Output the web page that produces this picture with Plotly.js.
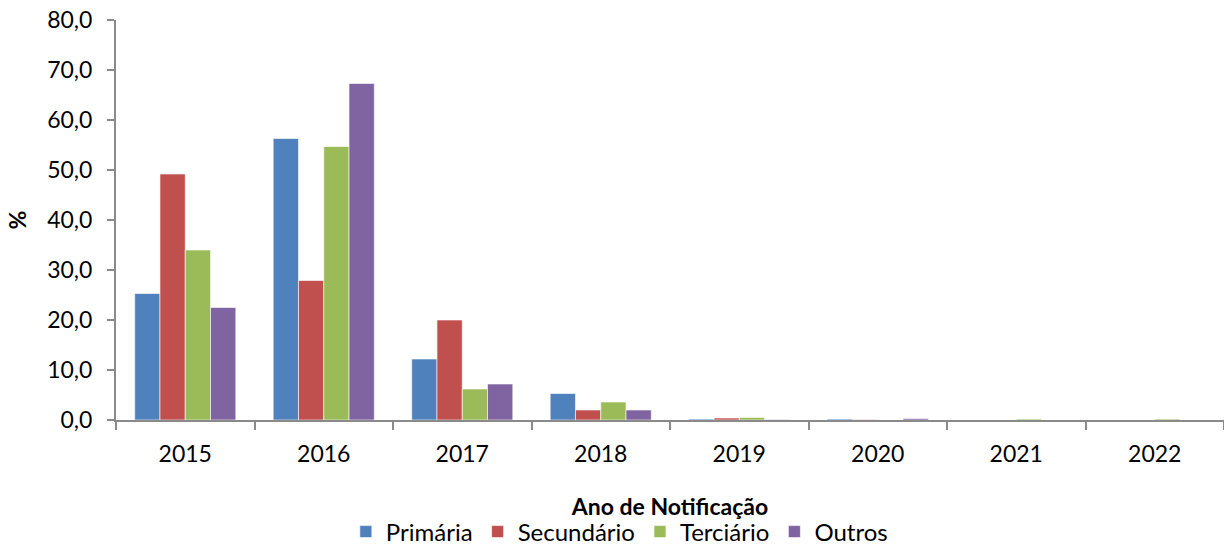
<!DOCTYPE html>
<html>
<head>
<meta charset="utf-8">
<script src="https://cdn.plot.ly/plotly-3.0.1.min.js"></script>
<style>html,body{margin:0;padding:0;background:#fff;}#chart{width:1224px;height:546px;}</style>
</head>
<body>
<div id="chart"></div>
<script>
const anos = ['2015','2016','2017','2018','2019','2020','2021','2022'];
const primaria    = [25.3, 56.3, 12.2, 5.3, 0.2, 0.2, 0.0, 0.0];
const secundario  = [49.2, 27.9, 20.0, 2.0, 0.4, 0.1, 0.0, 0.0];
const terciario   = [34.0, 54.7, 6.2, 3.6, 0.5, 0.0, 0.2, 0.2];
const outros      = [22.5, 67.3, 7.2, 2.0, 0.1, 0.3, 0.0, 0.0];
const nomes = ['Primária','Secundário','Terciário','Outros'];
const cores = ['#4F81BD','#C0504D','#9BBB59','#8064A2'];
const series = [primaria, secundario, terciario, outros];

const FONT = 'Lato, "Open Sans", sans-serif';
const traces = series.map((s,i)=>({
  type:'bar', x:anos, y:s, name:nomes[i],
  marker:{color:cores[i], line:{color:'rgba(255,255,255,0.6)', width:1}},
  hoverinfo:'none'
}));

const layout = {
  width:1224, height:546,
  margin:{l:116, r:0, t:20, b:126, autoexpand:false},
  paper_bgcolor:'#fff', plot_bgcolor:'#fff',
  font:{family:FONT, size:23, color:'#000'},
  barmode:'group', bargap:0.27, bargroupgap:0,
  separators:',.',
  showlegend:true,
  legend:{orientation:'h', xref:'container', yref:'paper', x:0.506, xanchor:'center', y:-0.28, yanchor:'middle',
    font:{family:FONT, size:24, color:'#000'}, itemwidth:30, traceorder:'normal', tracegroupgap:0},
  xaxis:{
    type:'category', showgrid:false, zeroline:false, automargin:false,
    showline:true, linecolor:'#8a8a8a', linewidth:2,
    ticks:'outside', tickson:'boundaries', ticklen:8, tickcolor:'#8a8a8a', tickwidth:2,
    ticklabelstandoff:12,
    tickfont:{family:FONT, size:23, color:'#000'},
    title:{text:'<b>Ano de Notificação</b>', font:{family:FONT, size:23, color:'#000'}, standoff:33}
  },
  yaxis:{
    range:[0,80], dtick:10, tickformat:'.1f', showgrid:false, zeroline:false, automargin:false,
    showline:true, linecolor:'#8a8a8a', linewidth:2,
    ticks:'outside', ticklen:7, tickcolor:'#8a8a8a', tickwidth:2,
    ticklabelstandoff:10,
    tickfont:{family:FONT, size:23, color:'#000'},
    title:{text:'<b>%</b>', font:{family:FONT, size:23, color:'#000'}, standoff:14}
  }
};
Plotly.newPlot('chart', traces, layout, {displayModeBar:false, staticPlot:true});
</script>
</body>
</html>
